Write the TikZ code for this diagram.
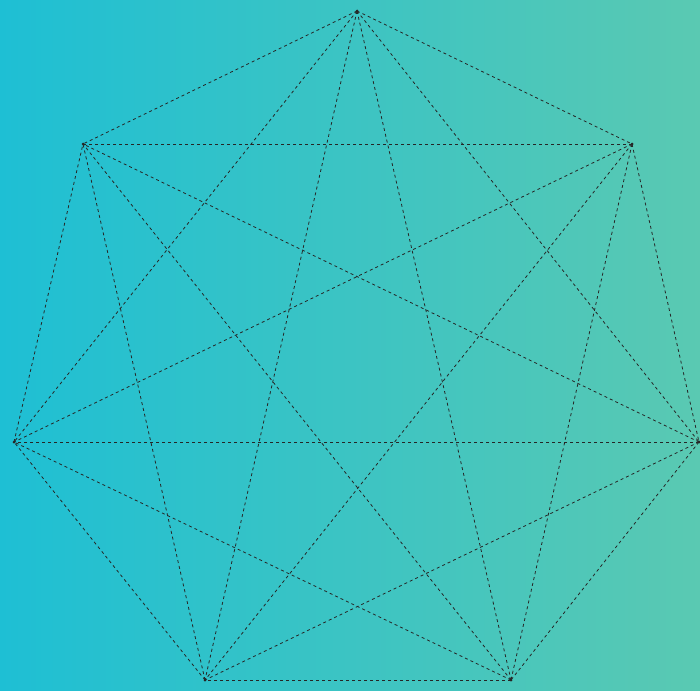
\documentclass[tikz,border=0pt]{standalone}
\begin{document}
\begin{tikzpicture}[x=1pt,y=-1pt,
  edge/.style={draw=black!85, line width=0.8pt, dash pattern=on 3pt off 3pt},
  vert/.style={circle, fill=black!85, inner sep=0pt, minimum size=3pt}]
\definecolor{bgleft}{RGB}{30,191,212}
\definecolor{bgright}{RGB}{90,201,178}
\shade[left color=bgleft, right color=bgright] (0,0) rectangle (700,690);
\useasboundingbox (0,0) rectangle (700,690);
\node[vert] (a) at (357,11) {};
\node[vert] (b) at (632,144) {};
\node[vert] (c) at (699,442) {};
\node[vert] (d) at (511,680) {};
\node[vert] (e) at (205,680) {};
\node[vert] (f) at (14,442) {};
\node[vert] (g) at (83,144) {};
\foreach \u/\v in {a/b,a/c,a/d,a/e,a/f,a/g,b/c,b/d,b/e,b/f,b/g,c/d,c/e,c/f,c/g,d/e,d/f,d/g,e/f,e/g,f/g}
  \draw[edge] (\u.center) -- (\v.center);
\end{tikzpicture}
\end{document}
